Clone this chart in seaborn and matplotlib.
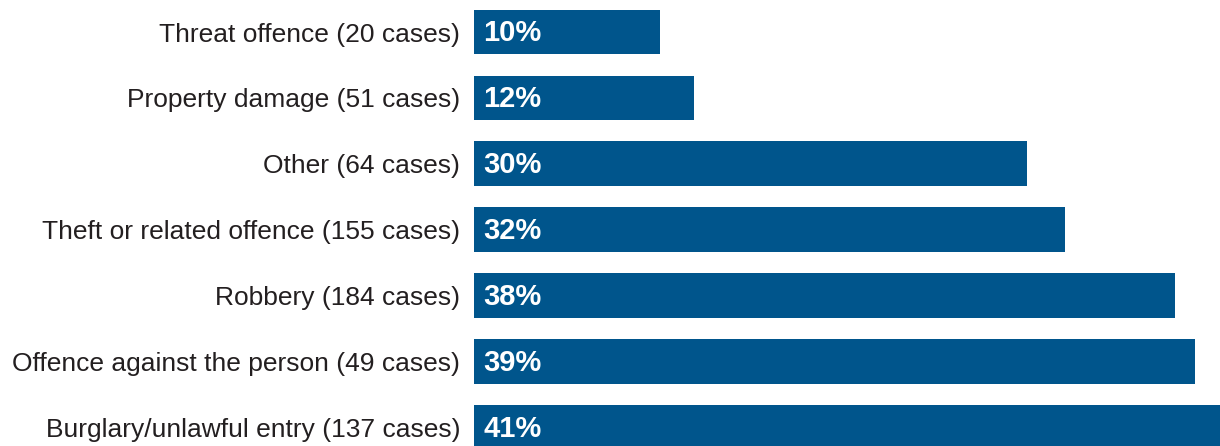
import matplotlib
matplotlib.use("Agg")
import matplotlib.pyplot as plt
import seaborn as sns
import pandas as pd

categories = [
    "Threat offence (20 cases)",
    "Property damage (51 cases)",
    "Other (64 cases)",
    "Theft or related offence (155 cases)",
    "Robbery (184 cases)",
    "Offence against the person (49 cases)",
    "Burglary/unlawful entry (137 cases)",
]
values = [10.2, 12.1, 30.4, 32.5, 38.5, 39.6, 41.0]
value_labels = ["10%", "12%", "30%", "32%", "38%", "39%", "41%"]

sns.set_theme(style="white")
plt.rcParams["font.family"] = ["Liberation Sans Narrow", "Liberation Sans", "DejaVu Sans"]

df = pd.DataFrame({"category": categories, "value": values})

fig = plt.figure(figsize=(12.2, 4.46), dpi=100)
ax = fig.add_axes([474 / 1220, 0, 746 / 1220, 1])
sns.barplot(data=df, y="category", x="value", orient="h", color="#00558C",
            saturation=1, width=0.68, linewidth=0, edgecolor="none", ax=ax)

ax.set_xlim(0, 41)
ax.set_ylim(6.28, -0.486)
ax.set_xlabel("")
ax.set_ylabel("")
ax.set_xticks([])
for s in ax.spines.values():
    s.set_visible(False)
ax.tick_params(axis="y", length=0, pad=10, labelsize=19, labelcolor="#231F20")

for i, lab in enumerate(value_labels):
    ax.text(0.52, i + 0.02, lab, color="white", fontsize=21, fontweight="bold",
            va="center", ha="left")

fig.savefig("out.png", dpi=100)
